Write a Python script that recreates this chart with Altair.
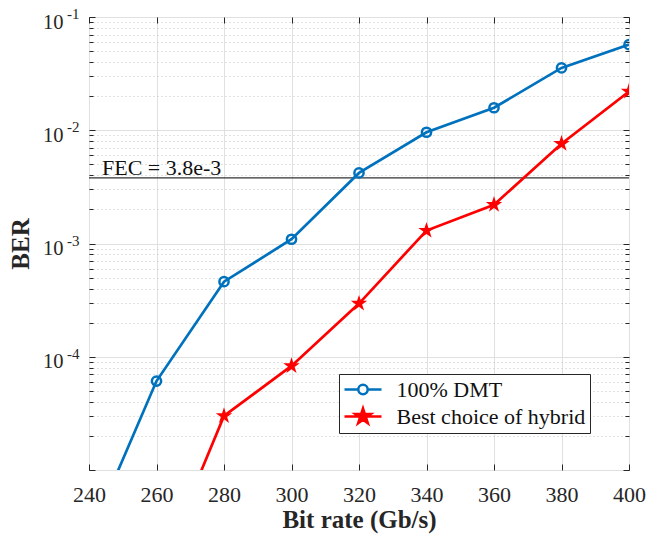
import altair as alt
import pandas as pd

# ---------------- data ----------------
series_names = ["100% DMT", "Best choice of hybrid"]
series_colors = ["#0072BD", "#FF0000"]

rates_dmt = [240, 260, 280, 300, 320, 340, 360, 380, 400]
ber_dmt = [2.5e-6, 6.1e-5, 4.6e-4, 1.09e-3, 4.2e-3, 9.6e-3, 1.58e-2, 3.55e-2, 5.7e-2]

rates_hyb = [260, 280, 300, 320, 340, 360, 380, 400]
ber_hyb = [1.1e-6, 3.0e-5, 8.3e-5, 2.95e-4, 1.3e-3, 2.2e-3, 7.6e-3, 2.2e-2]

fec_level = [3.8e-3]
fec_label = ["FEC = 3.8e-3"]
fec_anchor = [240]

x_ticks = [240, 260, 280, 300, 320, 340, 360, 380, 400]
y_major = [1e-5, 1e-4, 1e-3, 1e-2, 1e-1]
y_labelled = [1e-4, 1e-3, 1e-2, 1e-1]
y_minor = [k * 10.0 ** d for d in range(-5, -1) for k in range(2, 10)]

# ---------------- tables ----------------
df_dmt = pd.DataFrame({"rate": rates_dmt, "ber": ber_dmt, "series": series_names[0]})
df_hyb = pd.DataFrame({"rate": rates_hyb, "ber": ber_hyb, "series": series_names[1]})
df_all = pd.concat([df_dmt, df_hyb], ignore_index=True)
df_fec = pd.DataFrame({"rate": fec_anchor, "fec": fec_level, "label": fec_label})

FONT = "Liberation Serif"
INK = "#262626"

xs = alt.Scale(domain=[240, 400], nice=False, zero=False)
ys = alt.Scale(type="log", domain=[1e-5, 1e-1], nice=False)

star_pts = [(0, -1), (0.2245, -0.309), (0.951, -0.309), (0.3633, 0.118), (0.588, 0.809),
            (0, 0.382), (-0.588, 0.809), (-0.3633, 0.118), (-0.951, -0.309), (-0.2245, -0.309)]
star = "M" + "L".join(f"{x},{y}" for x, y in star_pts) + "Z"

# legend glyphs: line segment + marker (unit box scaled by sqrt(size)/2 = 10 px)
half = 1.85
cr = 0.47
leg_circle = (f"M{-half},0H{-cr}M{cr},0H{half}"
              f"M{-cr},0A{cr},{cr} 0 1 0 {cr},0A{cr},{cr} 0 1 0 {-cr},0Z")
sr = 0.82
leg_star = f"M{-half},0H{half}M" + "L".join(f"{x*sr:.4f},{y*sr:.4f}" for x, y in star_pts) + "Z"


def X(axis=None):
    return alt.X("rate:Q", scale=xs, axis=axis)


def Y(axis=None):
    return alt.Y("ber:Q", scale=ys, axis=axis)


exp_expr = "round(log(datum.value)/LN10)"

main_x = alt.Axis(orient="bottom", values=x_ticks, title="Bit rate (Gb/s)", grid=True,
                  gridColor="#e0e0e0", ticks=False, domain=False, labelPadding=14,
                  labelFont=FONT, labelFontSize=22, labelColor=INK, titleFont=FONT,
                  titleFontSize=25, titleFontWeight="bold", titleColor=INK, titlePadding=2,
                  labelFlush=False)
# mantissa "10" of the y labels (with the axis title and major grid)
main_y = alt.Axis(orient="left", values=y_labelled, title="BER", grid=True, gridColor="#e0e0e0",
                  ticks=False, domain=False, labelPadding=26, labelFont=FONT, labelFontSize=20.5,
                  labelColor=INK, labelExpr="'10'", labelOverlap=False, labelBound=False,
                  labelFlush=False, labelBaseline="middle", labelAlign="right", labelOffset=5,
                  titleFont=FONT, titleFontSize=25, titleFontWeight="bold",
                  titleColor=INK, titlePadding=9)
# exponent part of the y labels
exp_y = alt.Axis(orient="left", values=y_labelled, title=None, grid=False, ticks=False,
                 domain=False, labelPadding=10, labelFont=FONT, labelFontSize=15,
                 labelColor=INK, labelExpr=f"'' + {exp_expr}", labelOverlap=False,
                 labelBound=False, labelFlush=False, labelBaseline="middle",
                 labelAlign="right", labelOffset=-3.5)
major_grid_y_low = alt.Axis(orient="left", values=[1e-5], grid=True, gridColor="#e0e0e0",
                            ticks=False, labels=False, domain=False, title=None)
minor_grid_y = alt.Axis(orient="left", values=y_minor, grid=True, gridColor="#c4c4c4",
                        gridDash=[1, 3], ticks=False, labels=False, domain=False, title=None)


def tick_axis(orient, values, size):
    return alt.Axis(orient=orient, values=values, ticks=True, tickSize=size, tickColor=INK,
                    tickWidth=1, offset=-size, labels=False, domain=False, grid=False, title=None)


def ghost(xaxis=None, yaxis=None):
    return alt.Chart(df_all).mark_point(opacity=0, clip=True).encode(x=X(xaxis), y=Y(yaxis))


line_dmt = alt.Chart(df_dmt).mark_line(color=series_colors[0], strokeWidth=2.7, clip=True).encode(
    x=X(main_x), y=Y(main_y))
line_hyb = alt.Chart(df_hyb).mark_line(color=series_colors[1], strokeWidth=2.7, clip=True).encode(
    x=X(), y=Y())
pts_dmt = alt.Chart(df_dmt).mark_point(shape="circle", size=85, strokeWidth=2.5, filled=False,
                                       color=series_colors[0], opacity=1, clip=True).encode(x=X(), y=Y())
pts_hyb = alt.Chart(df_hyb).mark_point(shape=star, size=300, strokeWidth=1, filled=True,
                                       color=series_colors[1], opacity=1, clip=True).encode(x=X(), y=Y())

fec_rule = alt.Chart(df_fec).mark_rule(color="#333333", strokeWidth=1.2).encode(
    y=alt.Y("fec:Q", scale=ys, axis=None))
fec_text = alt.Chart(df_fec).mark_text(align="left", baseline="alphabetic", dx=13, dy=-3,
                                       font=FONT, fontSize=22, color="#111111").encode(
    x=alt.X("rate:Q", scale=xs, axis=None), y=alt.Y("fec:Q", scale=ys, axis=None), text="label:N")

leg = alt.Legend(orient="none", legendX=250, legendY=357, title=None, labelFont=FONT,
                 labelFontSize=22, labelColor="#111111", labelLimit=0, strokeColor=INK,
                 fillColor="white", padding=4, symbolSize=400, symbolStrokeWidth=2.5,
                 symbolOpacity=1, symbolOffset=8.5, labelOffset=22, rowPadding=2)
legend_layer = alt.Chart(df_all).mark_point(opacity=0, filled=False, clip=True).encode(
    x=X(), y=Y(),
    color=alt.Color("series:N", scale=alt.Scale(domain=series_names, range=series_colors), legend=leg),
    fill=alt.Fill("series:N", scale=alt.Scale(domain=series_names, range=["transparent", "#FF0000"]), legend=leg),
    shape=alt.Shape("series:N", scale=alt.Scale(domain=series_names, range=[leg_circle, leg_star]), legend=leg),
)

layers = [
    ghost(yaxis=minor_grid_y),
    ghost(yaxis=major_grid_y_low),
    ghost(yaxis=exp_y),
    ghost(xaxis=tick_axis("bottom", x_ticks, 6)),
    ghost(xaxis=tick_axis("top", x_ticks, 6)),
    ghost(yaxis=tick_axis("left", y_major, 6)),
    ghost(yaxis=tick_axis("left", y_minor, 4)),
    ghost(yaxis=tick_axis("right", y_major, 6)),
    ghost(yaxis=tick_axis("right", y_minor, 4)),
    fec_rule,
    line_dmt, line_hyb, pts_dmt, pts_hyb,
    fec_text,
    legend_layer,
]

chart = alt.layer(*layers).resolve_axis(x="independent", y="independent").properties(
    width=540, height=453,
    autosize=alt.AutoSizeParams(type="none"),
    padding={"left": 81, "top": 9, "right": 22, "bottom": 70},
    background="white",
).configure_view(stroke=INK, strokeWidth=1)

chart.save("out.html", embed_options={"renderer": "svg", "actions": False})
